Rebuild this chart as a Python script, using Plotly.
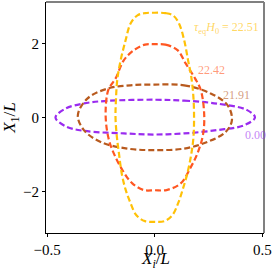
import plotly.graph_objects as go

# --- data (X_i/L, X_1/L) ---
labels = ["0.00", "21.91", "22.42", "22.51"]

purple_x = [0, 0.137, 0.29, 0.43, 0.466, 0.416, 0.29, 0.137, 0, -0.143, -0.329, -0.415, -0.461, -0.415, -0.329, -0.22, 0]
purple_y = [0.48, 0.455, 0.375, 0.2, 0.0, -0.21, -0.34, -0.43, -0.46, -0.43, -0.36, -0.235, 0.0, 0.24, 0.38, 0.45, 0.48]

brown_x = [0, 0.137, 0.26, 0.339, 0.359, 0.33, 0.245, 0.137, 0, -0.127, -0.251, -0.329, -0.357, -0.313, -0.22, -0.112, 0]
brown_y = [0.89, 0.87, 0.65, 0.33, -0.07, -0.39, -0.66, -0.84, -0.88, -0.84, -0.66, -0.34, 0.06, 0.51, 0.78, 0.87, 0.89]

red_x = [0, 0.05, 0.106, 0.144, 0.188, 0.214, 0.230, 0.225, 0.200, 0.168, 0.121, 0.055, 0, -0.05, -0.104, -0.150, -0.190, -0.215, -0.228, -0.215, -0.182, -0.143, -0.096, -0.045, 0]
red_y = [1.98, 1.97, 1.82, 1.46, 1.05, 0.75, 0.1, -0.45, -0.95, -1.34, -1.78, -1.96, -1.965, -1.96, -1.78, -1.42, -0.97, -0.55, 0.1, 0.75, 1.05, 1.55, 1.82, 1.97, 1.98]

yellow_x = [0, 0.05, 0.085, 0.113, 0.137, 0.155, 0.170, 0.180, 0.183, 0.180, 0.168, 0.150, 0.130, 0.110, 0.082, 0.045, 0, -0.045, -0.085, -0.113, -0.135, -0.152, -0.166, -0.176, -0.182, -0.180, -0.174, -0.158, -0.135, -0.112, -0.08, -0.045, 0]
yellow_y = [2.83, 2.82, 2.76, 2.54, 2.09, 1.55, 1.10, 0.55, 0, -0.55, -1.06, -1.55, -1.95, -2.30, -2.64, -2.80, -2.82, -2.80, -2.64, -2.30, -1.95, -1.55, -0.97, -0.5, 0, 0.47, 1.01, 1.55, 2.09, 2.54, 2.76, 2.82, 2.83]

x_ticks = [-0.5, 0.0, 0.5]
x_ticklabels = ["\u22120.5", "0.0", "0.5"]
y_ticks = [-2, 0, 2]
y_ticklabels = ["\u22122", "0", "2"]

line_colors = ["#9A2BEF", "#B85A1E", "#FF5722", "#FFC107"]
label_colors = ["rgba(154,43,239,0.6)", "rgba(184,90,30,0.6)", "rgba(255,87,34,0.6)", "rgba(255,193,7,0.65)"]

FONT = "Liberation Serif"

fig = go.Figure()
series = [(purple_x, purple_y), (brown_x, brown_y), (red_x, red_y), (yellow_x, yellow_y)]
for (xs, ys), c in zip(series, line_colors):
    fig.add_trace(go.Scatter(x=xs, y=ys, mode="lines",
                             line=dict(color=c, width=2.2, dash="6px,3px", shape="spline", smoothing=1.0),
                             showlegend=False, hoverinfo="skip"))

label_text = [labels[0], labels[1], labels[2],
              "<i>\u03c4</i><sub>eq</sub><i>H</i><sub>0</sub> = " + labels[3]]
label_pos = [(0.47, -0.47, "center"), (0.38, 0.61, "center"), (0.265, 1.29, "center"), (0.494, 2.42, "right")]
for t, (ax, ay, anc), c in zip(label_text, label_pos, label_colors):
    fig.add_annotation(x=ax, y=ay, text=t, showarrow=False, xanchor=anc, yanchor="middle",
                       font=dict(family=FONT, size=12, color=c))

# x-axis title as a paper annotation (for exact placement)
fig.add_annotation(x=0.5, y=0, xref="paper", yref="paper", yanchor="middle", xanchor="center",
                   yshift=-27, showarrow=False, text="<i>X</i><sub><i>i</i></sub>/<i>L</i>",
                   font=dict(family=FONT, size=17, color="black"))

fig.update_xaxes(range=[-0.505, 0.508], tickvals=x_ticks, ticktext=x_ticklabels,
                 showgrid=False, zeroline=False, showline=True, linecolor="black", linewidth=1,
                 ticks="outside", ticklen=3, tickcolor="black",
                 tickfont=dict(family=FONT, size=15, color="black"))
fig.update_yaxes(range=[-3.12, 3.12], tickvals=y_ticks, ticktext=y_ticklabels,
                 showgrid=False, zeroline=False, showline=True, linecolor="black", linewidth=1,
                 ticks="outside", ticklen=3, tickcolor="black",
                 tickfont=dict(family=FONT, size=15, color="black"),
                 title=dict(text="<i>X</i><sub>1</sub>/<i>L</i>", standoff=4,
                            font=dict(family=FONT, size=17, color="black")))

# top and right frame lines (gray)
fig.add_shape(type="line", xref="paper", yref="paper", x0=0, x1=1, y0=1, y1=1,
              line=dict(color="#808080", width=2))
fig.add_shape(type="line", xref="paper", yref="paper", x0=1, x1=1, y0=0, y1=1,
              line=dict(color="#808080", width=2))

fig.update_layout(width=272, height=272, margin=dict(l=46, r=8, t=2, b=39, autoexpand=False),
                  plot_bgcolor="white", paper_bgcolor="white")
fig.write_html("out.html", config={"displayModeBar": False},
               post_script="document.body.style.margin='0';document.body.style.padding='0';document.body.style.overflow='hidden';")
